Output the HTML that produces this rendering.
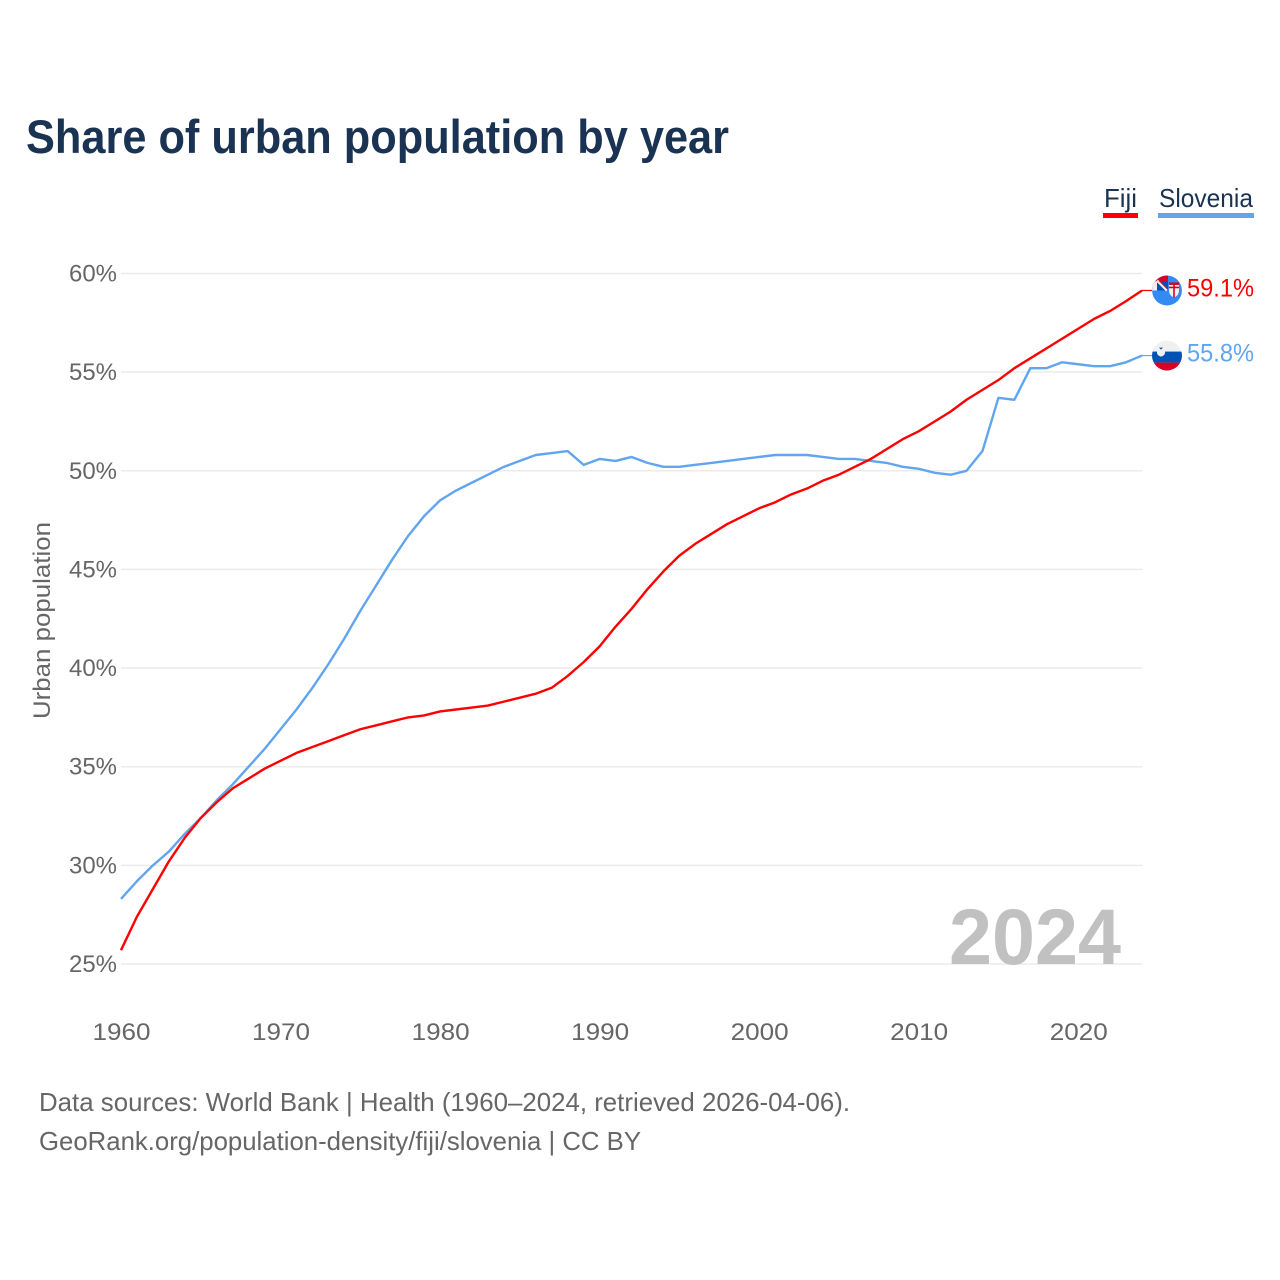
<!DOCTYPE html>
<html lang="en">
<head>
<meta charset="utf-8">
<title>Share of urban population by year</title>
<style>
html,body{margin:0;padding:0;background:#fff}
svg{display:block}
text{font-family:"Liberation Sans",sans-serif}
</style>
</head>
<body>
<svg id="chart" width="1280" height="1280" viewBox="0 0 1280 1280" xmlns="http://www.w3.org/2000/svg">
  <defs>
    <clipPath id="flag-clip"><circle cx="0" cy="0" r="15"></circle></clipPath>
  </defs>
  <rect width="1280" height="1280" fill="#fff"></rect>
  <text x="26" y="153" font-size="47" font-weight="700" fill="#1a3353" textLength="703" lengthAdjust="spacingAndGlyphs">Share of urban population by year</text>
  <g>
    <g>
      <text x="1104" y="207" font-size="26" fill="#1a3353" textLength="33" lengthAdjust="spacingAndGlyphs">Fiji</text>
      <rect x="1103" y="213" width="35" height="5" fill="#ff0000"></rect>
    </g>
    <g>
      <text x="1159" y="207" font-size="26" fill="#1a3353" textLength="94" lengthAdjust="spacingAndGlyphs">Slovenia</text>
      <rect x="1158" y="213" width="96" height="5" fill="#60a5ee"></rect>
    </g>
  </g>
  <g id="grid"></g>
  <text x="1121" y="964" text-anchor="end" font-size="79" font-weight="700" fill="#c1c1c1" textLength="172" lengthAdjust="spacingAndGlyphs">2024</text>
  <g id="yticks"></g>
  <g id="xticks"></g>
  <text transform="translate(50,719) rotate(-90)" x="0" y="0" font-size="24" fill="#666666" textLength="197" lengthAdjust="spacingAndGlyphs">Urban population</text>
  <g id="series"></g>
  <g id="flag-fiji" clip-path="url(#flag-clip)">
    <circle cx="0" cy="0" r="15" fill="#338af3"></circle>
    <rect x="-15" y="-15" width="16" height="15" fill="#d80027"></rect>
    <rect x="-15" y="-9" width="5" height="9" fill="#f0f0f0"></rect>
    <rect x="-10" y="-9" width="11" height="9" fill="#0052b4"></rect>
    <path d="M-10 -10 L0 0" stroke="#f0f0f0" stroke-width="2.5" fill="none"></path>
    <path d="M-8 -10 L1 -1" stroke="#d80027" stroke-width="1" fill="none"></path>
    <path d="M2 -8 H12 V0 Q12 5 7 7 Q2 5 2 0 Z" fill="#f0f0f0"></path>
    <path d="M7 -8 V7 M2 -3 H12" stroke="#d80027" stroke-width="1.6" fill="none"></path>
    <rect x="2" y="-8" width="10" height="2.5" fill="#d80027"></rect>
  </g>
  <g id="flag-slovenia" clip-path="url(#flag-clip)">
    <rect x="-15" y="-15" width="30" height="11" fill="#f0f0f0"></rect>
    <rect x="-15" y="-4" width="30" height="11" fill="#0052b4"></rect>
    <rect x="-15" y="7" width="30" height="8" fill="#d80027"></rect>
    <path d="M-10 -8 H-2 V-3 Q-2 0 -6 1 Q-10 0 -10 -3 Z" fill="#f0f0f0"></path>
    <path d="M-8 -8 H-4 L-6 -6 Z" fill="#0052b4"></path>
  </g>
  <g id="end-labels"></g>
  <g>
    <text x="39" y="1111" font-size="26" fill="#666666" textLength="811" lengthAdjust="spacingAndGlyphs">Data sources: World Bank | Health (1960–2024, retrieved 2026-04-06).</text>
    <text x="39" y="1150" font-size="26" fill="#666666" textLength="602" lengthAdjust="spacingAndGlyphs">GeoRank.org/population-density/fiji/slovenia | CC BY</text>
  </g>
</svg>
<script>
const years = [1960,1961,1962,1963,1964,1965,1966,1967,1968,1969,1970,1971,1972,1973,1974,1975,1976,1977,1978,1979,1980,1981,1982,1983,1984,1985,1986,1987,1988,1989,1990,1991,1992,1993,1994,1995,1996,1997,1998,1999,2000,2001,2002,2003,2004,2005,2006,2007,2008,2009,2010,2011,2012,2013,2014,2015,2016,2017,2018,2019,2020,2021,2022,2023,2024];
const fijiValues = [25.7,27.4,28.8,30.2,31.4,32.4,33.2,33.9,34.4,34.9,35.3,35.7,36.0,36.3,36.6,36.9,37.1,37.3,37.5,37.6,37.8,37.9,38.0,38.1,38.3,38.5,38.7,39.0,39.6,40.3,41.1,42.1,43.0,44.0,44.9,45.7,46.3,46.8,47.3,47.7,48.1,48.4,48.8,49.1,49.5,49.8,50.2,50.6,51.1,51.6,52.0,52.5,53.0,53.6,54.1,54.6,55.2,55.7,56.2,56.7,57.2,57.7,58.1,58.6,59.14];
const sloveniaValues = [28.3,29.2,30.0,30.7,31.6,32.4,33.3,34.1,35.0,35.9,36.9,37.9,39.0,40.2,41.5,42.9,44.2,45.5,46.7,47.7,48.5,49.0,49.4,49.8,50.2,50.5,50.8,50.9,51.0,50.3,50.6,50.5,50.7,50.4,50.2,50.2,50.3,50.4,50.5,50.6,50.7,50.8,50.8,50.8,50.7,50.6,50.6,50.5,50.4,50.2,50.1,49.9,49.8,50.0,51.0,53.7,53.6,55.2,55.2,55.5,55.4,55.3,55.3,55.5,55.84];
const yTicks = [25,30,35,40,45,50,55,60];
const xTicks = [1960,1970,1980,1990,2000,2010,2020];

const NS = 'http://www.w3.org/2000/svg';
function xScale(year){ return 121 + (year - 1960) * (1142 - 121) / (2024 - 1960); }
function yScale(value){ return 964 - (value - 25) * (964 - 273.5) / (60 - 25); }
function make(tag, parent){
  const el = document.createElementNS(NS, tag);
  parent.appendChild(el);
  return el;
}

const gridGroup = document.getElementById('grid');
const yGroup = document.getElementById('yticks');
const xGroup = document.getElementById('xticks');
const seriesGroup = document.getElementById('series');
const labelGroup = document.getElementById('end-labels');

yTicks.forEach(function(t){
  const line = make('line', gridGroup);
  
  
  line.setAttribute('x1', 121);
  line.setAttribute('x2', 1142);
  line.setAttribute('y1', yScale(t));
  line.setAttribute('y2', yScale(t));
  line.setAttribute('stroke', '#ebebeb');
  line.setAttribute('stroke-width', 1.5);
  const label = make('text', yGroup);
  
  
  label.setAttribute('x', 117);
  label.setAttribute('y', yScale(t) + 8);
  label.setAttribute('text-anchor', 'end');
  label.setAttribute('font-size', 24);
  label.setAttribute('fill', '#666666');
  label.setAttribute('textLength', 48);
  label.setAttribute('lengthAdjust', 'spacingAndGlyphs');
  label.textContent = t + '%';
});

xTicks.forEach(function(t){
  const label = make('text', xGroup);
  
  
  label.setAttribute('x', xScale(t) + 0.5);
  label.setAttribute('y', 1040);
  label.setAttribute('text-anchor', 'middle');
  label.setAttribute('font-size', 24);
  label.setAttribute('fill', '#666666');
  label.setAttribute('textLength', 58);
  label.setAttribute('lengthAdjust', 'spacingAndGlyphs');
  label.textContent = t;
});

function drawSeries(values, color, lineName, stubName, flagId, labelName){
  const lastValue = values[values.length - 1];
  const lastX = xScale(years[years.length - 1]);
  const lastY = yScale(lastValue);
  const points = values.map(function(v, i){ return xScale(years[i]) + ',' + yScale(v); }).join(' ');
  const line = make('polyline', seriesGroup);
  
  
  line.setAttribute('points', points);
  line.setAttribute('fill', 'none');
  line.setAttribute('stroke', color);
  line.setAttribute('stroke-width', 2.4);
  line.setAttribute('stroke-linejoin', 'round');
  const stub = make('line', seriesGroup);
  
  
  stub.setAttribute('x1', lastX);
  stub.setAttribute('x2', lastX + 10);
  stub.setAttribute('y1', lastY);
  stub.setAttribute('y2', lastY);
  stub.setAttribute('stroke', color);
  stub.setAttribute('stroke-width', 1.2);
  document.getElementById(flagId).setAttribute('transform', 'translate(1167,' + lastY + ')');
  const label = make('text', labelGroup);
  
  
  label.setAttribute('x', 1187);
  label.setAttribute('y', lastY + 6);
  label.setAttribute('font-size', 25);
  label.setAttribute('fill', color);
  label.setAttribute('textLength', 67);
  label.setAttribute('lengthAdjust', 'spacingAndGlyphs');
  label.textContent = lastValue.toFixed(1) + '%';
}

drawSeries(sloveniaValues, '#60a5ee', 'slovenia-line', 'slovenia-leader', 'flag-slovenia', 'slovenia-end-label');
drawSeries(fijiValues, '#ff0000', 'fiji-line', 'fiji-leader', 'flag-fiji', 'fiji-end-label');
</script>
</body>
</html>
